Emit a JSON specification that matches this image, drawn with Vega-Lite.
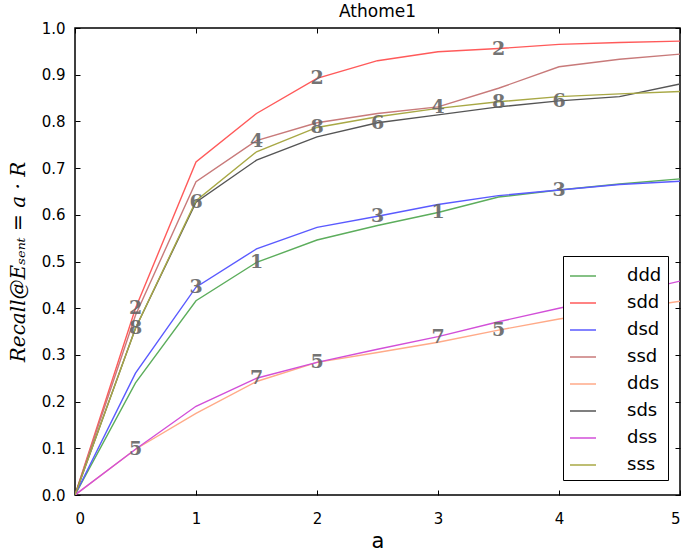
{
  "$schema": "https://vega.github.io/schema/vega-lite/v6.json",
  "width": 605,
  "height": 467,
  "autosize": {"type": "none"},
  "padding": {"left": 75, "top": 28, "right": 5, "bottom": 56},
  "background": "white",
  "title": {"text": "Athome1", "font": "DejaVu Sans", "fontSize": 17, "fontWeight": "normal", "color": "black", "offset": 0, "anchor": "middle"},
  "config": {
    "view": {"stroke": "black", "strokeWidth": 1.5},
    "axis": {"grid": false, "domain": false, "tickColor": "black", "tickSize": -5, "tickWidth": 1, "labelFont": "DejaVu Sans", "labelFontSize": 15, "labelColor": "black", "titleColor": "black"}
  },
  "data": {"values": [
    {"series": "ddd", "id": "1", "a": 0, "r": 0, "mark": false},
    {"series": "ddd", "id": "1", "a": 0.5, "r": 0.24, "mark": false},
    {"series": "ddd", "id": "1", "a": 1, "r": 0.416, "mark": false},
    {"series": "ddd", "id": "1", "a": 1.5, "r": 0.498, "mark": true},
    {"series": "ddd", "id": "1", "a": 2, "r": 0.546, "mark": false},
    {"series": "ddd", "id": "1", "a": 2.5, "r": 0.577, "mark": false},
    {"series": "ddd", "id": "1", "a": 3, "r": 0.605, "mark": true},
    {"series": "ddd", "id": "1", "a": 3.5, "r": 0.638, "mark": false},
    {"series": "ddd", "id": "1", "a": 4, "r": 0.653, "mark": false},
    {"series": "ddd", "id": "1", "a": 4.5, "r": 0.666, "mark": false},
    {"series": "ddd", "id": "1", "a": 5, "r": 0.677, "mark": false},
    {"series": "sdd", "id": "2", "a": 0, "r": 0, "mark": false},
    {"series": "sdd", "id": "2", "a": 0.5, "r": 0.4, "mark": true},
    {"series": "sdd", "id": "2", "a": 1, "r": 0.713, "mark": false},
    {"series": "sdd", "id": "2", "a": 1.5, "r": 0.817, "mark": false},
    {"series": "sdd", "id": "2", "a": 2, "r": 0.892, "mark": true},
    {"series": "sdd", "id": "2", "a": 2.5, "r": 0.93, "mark": false},
    {"series": "sdd", "id": "2", "a": 3, "r": 0.949, "mark": false},
    {"series": "sdd", "id": "2", "a": 3.5, "r": 0.956, "mark": true},
    {"series": "sdd", "id": "2", "a": 4, "r": 0.965, "mark": false},
    {"series": "sdd", "id": "2", "a": 4.5, "r": 0.969, "mark": false},
    {"series": "sdd", "id": "2", "a": 5, "r": 0.972, "mark": false},
    {"series": "dsd", "id": "3", "a": 0, "r": 0, "mark": false},
    {"series": "dsd", "id": "3", "a": 0.5, "r": 0.261, "mark": false},
    {"series": "dsd", "id": "3", "a": 1, "r": 0.445, "mark": true},
    {"series": "dsd", "id": "3", "a": 1.5, "r": 0.527, "mark": false},
    {"series": "dsd", "id": "3", "a": 2, "r": 0.573, "mark": false},
    {"series": "dsd", "id": "3", "a": 2.5, "r": 0.597, "mark": true},
    {"series": "dsd", "id": "3", "a": 3, "r": 0.622, "mark": false},
    {"series": "dsd", "id": "3", "a": 3.5, "r": 0.641, "mark": false},
    {"series": "dsd", "id": "3", "a": 4, "r": 0.653, "mark": true},
    {"series": "dsd", "id": "3", "a": 4.5, "r": 0.665, "mark": false},
    {"series": "dsd", "id": "3", "a": 5, "r": 0.672, "mark": false},
    {"series": "ssd", "id": "4", "a": 0, "r": 0, "mark": false},
    {"series": "ssd", "id": "4", "a": 0.5, "r": 0.385, "mark": false},
    {"series": "ssd", "id": "4", "a": 1, "r": 0.671, "mark": false},
    {"series": "ssd", "id": "4", "a": 1.5, "r": 0.759, "mark": true},
    {"series": "ssd", "id": "4", "a": 2, "r": 0.797, "mark": false},
    {"series": "ssd", "id": "4", "a": 2.5, "r": 0.817, "mark": false},
    {"series": "ssd", "id": "4", "a": 3, "r": 0.831, "mark": true},
    {"series": "ssd", "id": "4", "a": 3.5, "r": 0.871, "mark": false},
    {"series": "ssd", "id": "4", "a": 4, "r": 0.917, "mark": false},
    {"series": "ssd", "id": "4", "a": 4.5, "r": 0.933, "mark": false},
    {"series": "ssd", "id": "4", "a": 5, "r": 0.944, "mark": false},
    {"series": "dds", "id": "5", "a": 0, "r": 0, "mark": false},
    {"series": "dds", "id": "5", "a": 0.5, "r": 0.098, "mark": true},
    {"series": "dds", "id": "5", "a": 1, "r": 0.175, "mark": false},
    {"series": "dds", "id": "5", "a": 1.5, "r": 0.243, "mark": false},
    {"series": "dds", "id": "5", "a": 2, "r": 0.284, "mark": true},
    {"series": "dds", "id": "5", "a": 2.5, "r": 0.305, "mark": false},
    {"series": "dds", "id": "5", "a": 3, "r": 0.327, "mark": false},
    {"series": "dds", "id": "5", "a": 3.5, "r": 0.353, "mark": true},
    {"series": "dds", "id": "5", "a": 4, "r": 0.377, "mark": false},
    {"series": "dds", "id": "5", "a": 4.5, "r": 0.396, "mark": false},
    {"series": "dds", "id": "5", "a": 5, "r": 0.415, "mark": false},
    {"series": "sds", "id": "6", "a": 0, "r": 0, "mark": false},
    {"series": "sds", "id": "6", "a": 0.5, "r": 0.357, "mark": false},
    {"series": "sds", "id": "6", "a": 1, "r": 0.627, "mark": true},
    {"series": "sds", "id": "6", "a": 1.5, "r": 0.717, "mark": false},
    {"series": "sds", "id": "6", "a": 2, "r": 0.767, "mark": false},
    {"series": "sds", "id": "6", "a": 2.5, "r": 0.797, "mark": true},
    {"series": "sds", "id": "6", "a": 3, "r": 0.814, "mark": false},
    {"series": "sds", "id": "6", "a": 3.5, "r": 0.831, "mark": false},
    {"series": "sds", "id": "6", "a": 4, "r": 0.844, "mark": true},
    {"series": "sds", "id": "6", "a": 4.5, "r": 0.853, "mark": false},
    {"series": "sds", "id": "6", "a": 5, "r": 0.88, "mark": false},
    {"series": "dss", "id": "7", "a": 0, "r": 0, "mark": false},
    {"series": "dss", "id": "7", "a": 0.5, "r": 0.098, "mark": false},
    {"series": "dss", "id": "7", "a": 1, "r": 0.19, "mark": false},
    {"series": "dss", "id": "7", "a": 1.5, "r": 0.25, "mark": true},
    {"series": "dss", "id": "7", "a": 2, "r": 0.284, "mark": false},
    {"series": "dss", "id": "7", "a": 2.5, "r": 0.312, "mark": false},
    {"series": "dss", "id": "7", "a": 3, "r": 0.339, "mark": true},
    {"series": "dss", "id": "7", "a": 3.5, "r": 0.371, "mark": false},
    {"series": "dss", "id": "7", "a": 4, "r": 0.4, "mark": false},
    {"series": "dss", "id": "7", "a": 4.5, "r": 0.428, "mark": false},
    {"series": "dss", "id": "7", "a": 5, "r": 0.458, "mark": false},
    {"series": "sss", "id": "8", "a": 0, "r": 0, "mark": false},
    {"series": "sss", "id": "8", "a": 0.5, "r": 0.357, "mark": true},
    {"series": "sss", "id": "8", "a": 1, "r": 0.63, "mark": false},
    {"series": "sss", "id": "8", "a": 1.5, "r": 0.735, "mark": false},
    {"series": "sss", "id": "8", "a": 2, "r": 0.787, "mark": true},
    {"series": "sss", "id": "8", "a": 2.5, "r": 0.81, "mark": false},
    {"series": "sss", "id": "8", "a": 3, "r": 0.828, "mark": false},
    {"series": "sss", "id": "8", "a": 3.5, "r": 0.842, "mark": true},
    {"series": "sss", "id": "8", "a": 4, "r": 0.853, "mark": false},
    {"series": "sss", "id": "8", "a": 4.5, "r": 0.859, "mark": false},
    {"series": "sss", "id": "8", "a": 5, "r": 0.864, "mark": false}
  ]},
  "resolve": {"axis": {"x": "independent", "y": "independent"}},
  "layer": [
    {
      "mark": {"type": "line", "strokeWidth": 1.4, "clip": true},
      "encoding": {
        "x": {"field": "a", "type": "quantitative", "scale": {"domain": [0, 5], "nice": false, "zero": false},
              "axis": {"values": [0, 1, 2, 3, 4, 5], "format": "d", "title": "a", "titleFont": "DejaVu Sans", "titleFontSize": 21, "titleFontWeight": "normal", "labelPadding": 21, "titlePadding": 4}},
        "y": {"field": "r", "type": "quantitative", "scale": {"domain": [0, 1], "nice": false, "zero": false},
              "axis": {"values": [0, 0.1, 0.2, 0.3, 0.4, 0.5, 0.6, 0.7, 0.8, 0.9, 1.0], "format": ".1f", "title": "Recall@Eₛₑₙₜ = a · R", "titleFont": "DejaVu Serif", "titleFontSize": 20, "titleFontStyle": "italic", "titleFontWeight": "normal", "labelPadding": 15, "titlePadding": 13}},
        "color": {"field": "series", "type": "nominal",
                  "scale": {"domain": ["ddd", "sdd", "dsd", "ssd", "dds", "sds", "dss", "sss"],
                            "range": ["#5cad5c", "#ff5a5a", "#5a5aff", "#c87a7a", "#ffaa88", "#555555", "#d24fd8", "#a8a845"]},
                  "legend": {"title": null, "orient": "none", "legendX": 488, "legendY": 228, "symbolType": "stroke", "symbolSize": 676, "symbolStrokeWidth": 1.5,
                             "labelFont": "DejaVu Sans", "labelFontSize": 18, "labelColor": "black", "labelOffset": 30, "rowPadding": 4, "labelExpr": "datum.label + ' '",
                             "strokeColor": "black", "fillColor": "white", "padding": 6, "cornerRadius": 0}},
        "order": {"field": "a", "type": "quantitative"}
      }
    },
    {
      "transform": [{"filter": "datum.mark"}],
      "mark": {"type": "text", "font": "DejaVu Serif", "fontSize": 19, "fontWeight": "bold", "color": "#666666", "opacity": 0.9, "align": "center", "baseline": "middle"},
      "encoding": {
        "x": {"field": "a", "type": "quantitative", "axis": {"orient": "top", "values": [0, 1, 2, 3, 4, 5], "labels": false, "title": null}},
        "y": {"field": "r", "type": "quantitative", "axis": {"orient": "right", "values": [0, 0.1, 0.2, 0.3, 0.4, 0.5, 0.6, 0.7, 0.8, 0.9, 1.0], "labels": false, "title": null}},
        "text": {"field": "id", "type": "nominal"}
      }
    }
  ]
}
